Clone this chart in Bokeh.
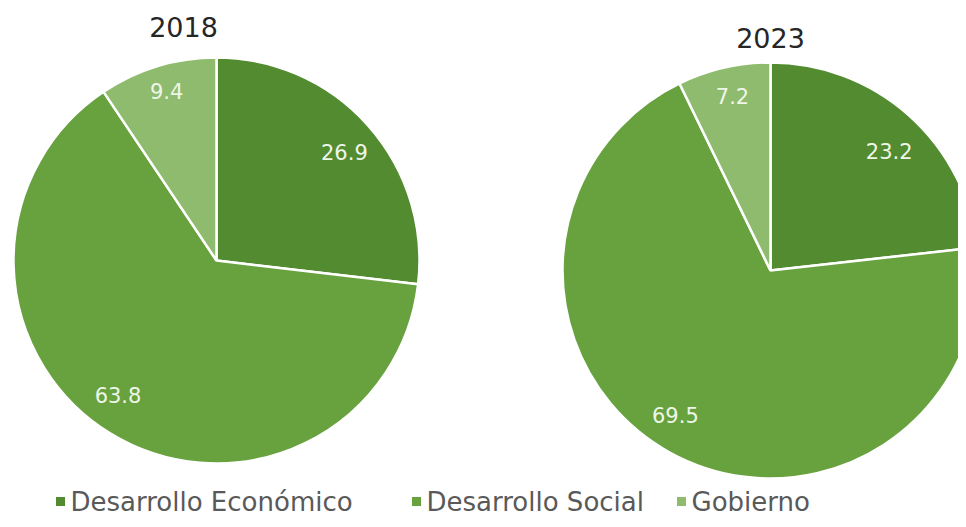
import numpy as np
from bokeh.plotting import figure
from bokeh.models import Range1d, ColumnDataSource
from bokeh.embed import file_html
from bokeh.resources import INLINE
from bokeh.core.properties import value

# ---- data ----
categories = ["Desarrollo Económico", "Desarrollo Social", "Gobierno"]
years = ["2018", "2023"]
values_2018 = [26.9, 63.8, 9.4]
values_2023 = [23.2, 69.5, 7.2]
colors = ["#538B31", "#67A23F", "#8FBB6F"]

# ---- layout (screen pixels measured from the top; converted to y-up below) ----
W, H = 958, 519
FONT = "DejaVu Sans"
pies = [
    dict(year=years[0], vals=values_2018, cx=216, cy=260, r=203, ty=26, tx=183,
         lr=[0.825, 0.82, 0.87], lshift=[-1.4, -4.8, -0.5]),
    dict(year=years[1], vals=values_2023, cx=770, cy=270, r=208, ty=37, tx=770,
         lr=[0.81, 0.83, 0.86], lshift=[-3.0, -4.6, -0.7]),
]

def sy(y):
    return H - y

p = figure(width=W, height=H, x_range=Range1d(0, W), y_range=Range1d(0, H),
           output_backend="svg", toolbar_location=None, min_border=0)
p.axis.visible = False
p.grid.visible = False
p.outline_line_color = None
p.background_fill_color = "white"
p.border_fill_color = "white"

for pie in pies:
    vals = np.array(pie["vals"], dtype=float)
    frac = vals / vals.sum()
    cum = np.concatenate([[0], np.cumsum(frac)])
    start = np.pi / 2 - cum[:-1] * 2 * np.pi
    end = np.pi / 2 - cum[1:] * 2 * np.pi
    mid = (start + end) / 2 + np.radians(pie["lshift"])
    lr = np.array(pie["lr"]) * pie["r"]
    cy = sy(pie["cy"])
    src = ColumnDataSource(dict(
        start=start, end=end, color=colors,
        lx=pie["cx"] + lr * np.cos(mid),
        ly=cy + lr * np.sin(mid),
        txt=[f"{v:.1f}" for v in pie["vals"]],
    ))
    p.wedge(x=pie["cx"], y=cy, radius=pie["r"], start_angle="start", end_angle="end",
            direction="clock", fill_color="color", line_color="white", line_width=2.5, source=src)
    p.text(x="lx", y="ly", text="txt", source=src, text_color="#EEF6E8",
           text_font=value(FONT), text_font_size="21px", text_align="center", text_baseline="middle")
    p.text(x=[pie["tx"]], y=[sy(pie["ty"])], text=[pie["year"]],
           text_color="#262626", text_font=value(FONT), text_font_size="27px",
           text_align="center", text_baseline="middle")

# ---- legend ----
leg_x = [60, 416, 681]
leg_y = sy(501)
p.scatter(x=leg_x, y=[leg_y] * 3, marker="square", size=9, fill_color=colors, line_color=None)
p.text(x=[x + 10 for x in leg_x], y=[leg_y] * 3, text=categories, text_color="#595959",
       text_font=value(FONT), text_font_size="26px", text_align="left", text_baseline="middle")

open("out.html", "w").write(file_html(p, INLINE))
